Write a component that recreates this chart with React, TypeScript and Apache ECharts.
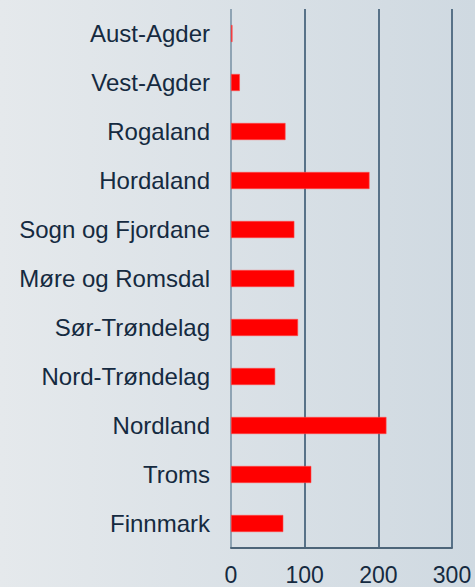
import React, { useEffect, useRef } from "react";
import * as echarts from "echarts";

const categories = [
  "Aust-Agder",
  "Vest-Agder",
  "Rogaland",
  "Hordaland",
  "Sogn og Fjordane",
  "Møre og Romsdal",
  "Sør-Trøndelag",
  "Nord-Trøndelag",
  "Nordland",
  "Troms",
  "Finnmark",
];
const values = [2, 12, 74, 188, 86, 86, 91, 60, 211, 109, 71];
const xTicks = [0, 100, 200, 300];

const FONT = "'Liberation Sans', Arial, Helvetica, sans-serif";

export default function App() {
  const ref = useRef<HTMLDivElement>(null);
  useEffect(() => {
    if (!ref.current) return;
    const chart = echarts.init(ref.current, null, { renderer: "svg" });
    chart.setOption({
      animation: false,
      backgroundColor: new echarts.graphic.LinearGradient(0, 0, 1, 0, [
        { offset: 0, color: "#e5e9ec" },
        { offset: 1, color: "#cfd9e1" },
      ]),
      grid: {
        left: 231,
        right: 23,
        top: 9,
        bottom: 39,
        containLabel: false,
        outerBoundsMode: "none",
      },
      xAxis: {
        type: "value",
        min: xTicks[0],
        max: xTicks[xTicks.length - 1],
        interval: 100,
        axisLine: { show: true, lineStyle: { color: "#4d6579", width: 2 } },
        axisTick: { show: false },
        axisLabel: {
          color: "#152a40",
          fontFamily: FONT,
          fontSize: 23,
          margin: 15,
        },
        splitLine: {
          show: true,
          lineStyle: {
            color: ["#8fa4b4", "#587288", "#587288", "#587288"],
            width: 2,
          },
        },
      },
      yAxis: {
        type: "category",
        data: categories,
        inverse: true,
        axisLine: { show: false },
        axisTick: { show: false },
        axisLabel: {
          color: "#152a40",
          fontFamily: FONT,
          fontSize: 24,
          margin: 21,
        },
        splitLine: { show: false },
      },
      series: [
        {
          type: "bar",
          data: values,
          barWidth: 17,
          itemStyle: { color: "#ff0000", borderColor: "#ff4a4a", borderWidth: 0.6 },
        },
      ],
    });
    return () => chart.dispose();
  }, []);
  return (
    <div
      ref={ref}
      style={{ position: "fixed", left: 0, top: 0, width: 475, height: 587 }}
    />
  );
}
